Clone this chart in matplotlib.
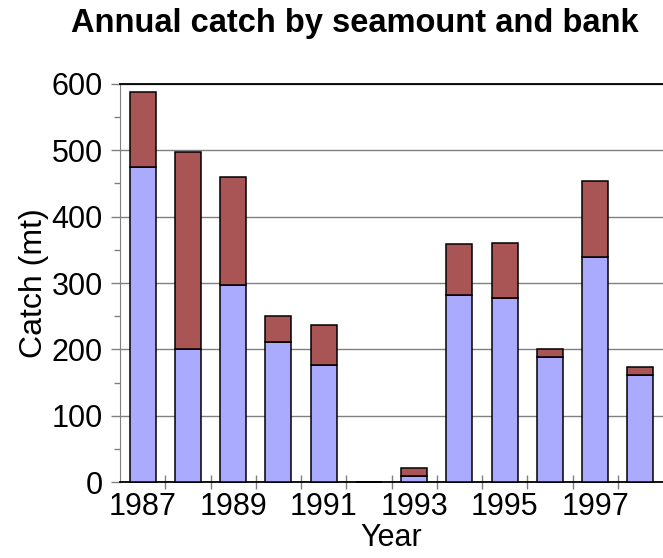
import matplotlib
matplotlib.use("Agg")
import matplotlib.pyplot as plt
import numpy as np

plt.rcParams['font.family'] = ['Liberation Sans', 'DejaVu Sans']

years = ["1987", "1988", "1989", "1990", "1991", "1992",
         "1993", "1994", "1995", "1996", "1997", "1998"]
seamount = [475, 200, 297, 211, 177, 0, 10, 282, 277, 188, 340, 161]
bank = [113, 298, 163, 40, 60, 0, 11, 77, 83, 12, 114, 12]

x = np.arange(len(years))

fig = plt.figure(figsize=(6.63, 5.58), dpi=100)
ax = fig.add_axes([0.181, 0.1357, 0.819, 0.714])

ax.bar(x, seamount, width=0.575, color='#AAAAFF', edgecolor='black', linewidth=1.1,
       zorder=3, clip_on=False)
ax.bar(x, bank, width=0.575, bottom=seamount, color='#AA5555', edgecolor='black',
       linewidth=1.1, zorder=3, clip_on=False)

ax.set_xlim(-0.5, len(years) - 0.5)
ax.set_ylim(0, 600)

# y axis
ax.set_yticks(np.arange(0, 601, 100))
ax.set_yticks(np.arange(50, 600, 100), minor=True)
ax.tick_params(axis='y', which='major', direction='out', length=6.5, width=1,
               color='#808080', labelsize=22, pad=6)
ax.tick_params(axis='y', which='minor', direction='out', length=4.5, width=1,
               color='#808080')
ax.yaxis.grid(True, color='#808080', linewidth=1, zorder=0)
ax.set_axisbelow(True)

# x axis: labels under every other bar, ticks between bars
ax.set_xticks(x[::2])
ax.set_xticklabels(years[::2])
ax.set_xticks(np.arange(0.5, len(years) - 0.5, 1), minor=True)
ax.tick_params(axis='x', which='major', length=0, labelsize=22, pad=7)
ax.tick_params(axis='x', which='minor', direction='inout', length=10, width=1,
               color='#808080')

ax.spines['left'].set_color('#808080')
ax.spines['right'].set_visible(False)
ax.spines['top'].set_color('black')
ax.spines['top'].set_linewidth(1.3)
ax.spines['bottom'].set_color('black')
ax.spines['bottom'].set_linewidth(1.3)

ax.set_xlabel("Year", fontsize=22, labelpad=1)
ax.set_ylabel("Catch (mt)", fontsize=23, labelpad=2)
fig.suptitle("Annual catch by seamount and bank", fontsize=23.5, fontweight='bold',
             x=0.535, y=0.985)

fig.savefig("out.png", dpi=100)
